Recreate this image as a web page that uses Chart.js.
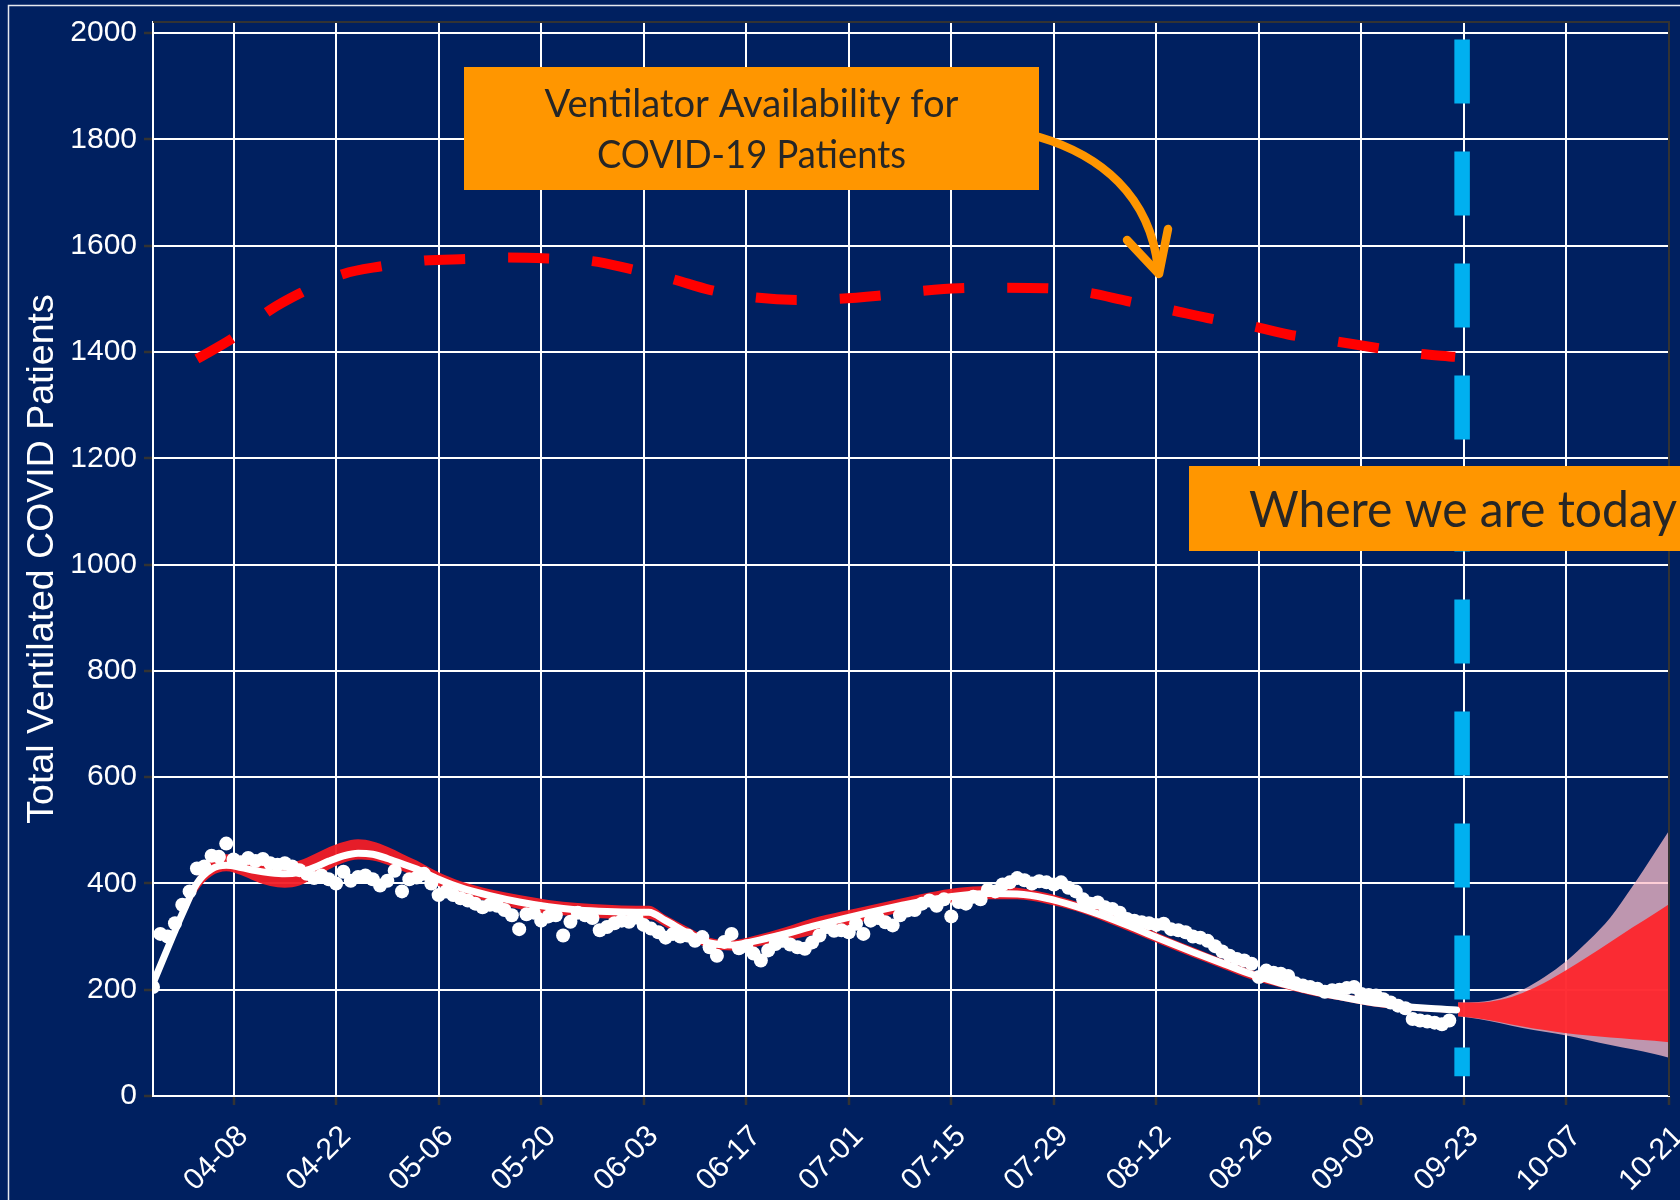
<!DOCTYPE html>
<html><head><meta charset="utf-8">
<style>html,body{margin:0;padding:0;background:#002060;}canvas{display:block;}</style>
<script src="https://cdn.jsdelivr.net/npm/chart.js@4.4.1/dist/chart.umd.min.js"></script>
</head><body>
<canvas id="c" width="1680" height="1200"></canvas>
<script>
// ---- axis ticks (x = days since 03-28) ----
const tickDays = [11, 25, 39, 53, 67, 81, 95, 109, 123, 137, 151, 165, 179, 193, 207];
const tickLabels = ['04-08','04-22','05-06','05-20','06-03','06-17','07-01','07-15','07-29','08-12','08-26','09-09','09-23','10-07','10-21'];
const yTicks = [0, 200, 400, 600, 800, 1000, 1200, 1400, 1600, 1800, 2000];

// ---- observed daily ventilated patients (day 0 = 03-28) ----
const observed = [
 205,305,300,325,360,385,428,432,452,450,475,445,440,448,442,446,438,435,438,432,
 425,418,410,415,408,400,422,405,412,415,408,396,405,424,385,408,411,418,400,378,
 385,378,372,368,362,355,360,358,350,340,314,342,345,330,338,340,302,328,345,340,
 335,312,318,325,330,328,336,322,315,308,298,305,300,302,292,299,280,264,290,305,
 278,282,268,255,274,286,292,285,280,277,289,302,318,311,312,308,324,305,330,335,
 327,321,340,349,350,362,368,358,370,338,365,362,375,370,388,385,398,402,410,406,
 400,404,402,398,402,392,385,370,362,364,355,352,345,333,330,327,325,322,324,314,
 312,308,300,298,292,282,272,264,258,255,249,224,236,232,230,226,212,208,205,202,
 196,199,200,203,205,192,190,189,182,176,170,165,145,142,140,138,135,142
];

// ---- smoothed fit and its band ----
const fitDays   = [0,2,4,6,8,10,12,14,16,18,20,22,24,26,28,30,32,34,36,39,42,46,50,54,58,62,66,67.7,70,73,76,79,82,86,90,94,98,102,106,110,114,118,122,126,130,134,138,142,146,150,154,158,162,166,170,174,178];
const fitCenter = [212,278,343,400,427,434,430,424,420,418,421,430,442,452,457,455,447,437,427,408,392,377,365,356,350,347,346,346,330,307,288,284,291,304,319,333,346,358,369,377,381,380,372,357,338,316,293,271,250,229,212,198,187,177,170,165,162];
const fitLower  = [206,270,333,385,414,423,416,404,395,392,396,410,426,439,445,443,435,424,412,395,380,365,352,343,338,334,333,333,318,296,278,274,280,291,303,318,332,346,358,366,370,370,362,348,328,306,283,261,240,219,204,190,180,170,163,159,156];
const fitUpper  = [218,284,350,410,444,455,452,446,441,439,443,455,468,478,483,479,469,456,443,421,404,389,378,369,363,360,358,358,340,318,298,293,301,316,334,347,359,371,383,392,395,392,382,366,347,325,302,280,258,237,220,205,194,184,176,170,167];

// ---- forecast fan ----
const fanDays       = [178.2,181,184,187,190,193,196,199,202,205,207];
const fanInnerUpper = [176,176,181,194,213,237,263,290,317,343,361];
const fanInnerLower = [150,146,139,131,124,118,114,110,107,104,101];
const fanOuterUpper = [176,177,184,200,224,254,292,336,394,457,499];
const fanOuterLower = [150,145,137,128,121,114,105,96,88,79,72];

// ---- ventilator availability ----
const capacityDays   = [6,11,16,20,26,31,37,43,48.5,54,60,65,71,76,82,88,93.5,99,105,110,116,122,127.5,133,139,144,150,155,161,166.5,172,177.8];
const capacityValues = [1387,1427,1479,1510,1547,1561,1572,1575,1578,1576,1571,1557,1537,1517,1503,1498,1500,1506,1515,1520,1521,1520,1512,1496,1479,1464,1449,1433,1421,1409,1398,1391];

// ---- "today" marker ----
const todayDay = 178.75;
const todayRange = [1988, 37];

const BG = '#002060', ORANGE = '#FF9600', TEXT_DARK = '#262626';
const pts = (xs, ys) => xs.map((x, i) => ({x: x, y: ys[i]}));

const lineBase = {pointRadius: 0, pointHoverRadius: 0, borderCapStyle: 'butt'};

const datasets = [
  Object.assign({}, lineBase, {label: 'today', data: pts([todayDay, todayDay], todayRange), borderColor: '#00B0F0', borderWidth: 15.5, borderDash: [64, 48], order: 0}),
  Object.assign({}, lineBase, {label: 'capacity', data: pts(capacityDays, capacityValues), borderColor: '#FF0000', borderWidth: 10, borderDash: [41, 43], cubicInterpolationMode: 'monotone', order: 1}),
  {label: 'observed', data: observed.map((v, i) => ({x: i, y: v})), showLine: false, pointRadius: 7, pointHoverRadius: 7, pointBackgroundColor: '#FFFFFF', pointBorderWidth: 0, borderWidth: 0, order: 2},
  Object.assign({}, lineBase, {label: 'fit', data: pts(fitDays, fitCenter), borderColor: '#FFFFFF', borderWidth: 7, cubicInterpolationMode: 'monotone', borderCapStyle: 'round', order: 3}),
  Object.assign({}, lineBase, {label: 'fitUpper', data: pts(fitDays, fitUpper), borderWidth: 0, borderColor: 'rgba(0,0,0,0)', backgroundColor: 'rgba(242,30,38,0.95)', fill: '+1', cubicInterpolationMode: 'monotone', order: 4}),
  Object.assign({}, lineBase, {label: 'fitLower', data: pts(fitDays, fitLower), borderWidth: 0, borderColor: 'rgba(0,0,0,0)', cubicInterpolationMode: 'monotone', order: 5}),
  Object.assign({}, lineBase, {label: 'fanInnerUpper', data: pts(fanDays, fanInnerUpper), borderWidth: 0, borderColor: 'rgba(0,0,0,0)', backgroundColor: 'rgba(255,34,40,0.92)', fill: '+1', cubicInterpolationMode: 'monotone', order: 6}),
  Object.assign({}, lineBase, {label: 'fanInnerLower', data: pts(fanDays, fanInnerLower), borderWidth: 0, borderColor: 'rgba(0,0,0,0)', cubicInterpolationMode: 'monotone', order: 7}),
  Object.assign({}, lineBase, {label: 'fanOuterUpper', data: pts(fanDays, fanOuterUpper), borderWidth: 0, borderColor: 'rgba(0,0,0,0)', backgroundColor: 'rgba(253,189,201,0.75)', fill: '+1', cubicInterpolationMode: 'monotone', order: 8}),
  Object.assign({}, lineBase, {label: 'fanOuterLower', data: pts(fanDays, fanOuterLower), borderWidth: 0, borderColor: 'rgba(0,0,0,0)', cubicInterpolationMode: 'monotone', order: 9})
];

function fitText(ctx, text, family, capH, targetW, x, baseline, align) {
  const size = capH / 0.7165;
  ctx.font = size + 'px ' + family;
  const w = ctx.measureText(text).width;
  const sx = targetW / w;
  ctx.save();
  ctx.translate(x, baseline);
  ctx.scale(sx, 1);
  ctx.textAlign = align;
  ctx.textBaseline = 'alphabetic';
  ctx.fillStyle = TEXT_DARK;
  ctx.fillText(text, 0, 0);
  ctx.restore();
}

const decor = {
  id: 'decor',
  beforeDraw(chart) {
    const ctx = chart.ctx;
    ctx.save();
    ctx.fillStyle = BG;
    ctx.fillRect(0, 0, chart.width, chart.height);
    ctx.restore();
  },
  afterDatasetsDraw(chart) {
    const ctx = chart.ctx, a = chart.chartArea;
    ctx.save();
    ctx.strokeStyle = '#333333';
    ctx.lineWidth = 2;
    ctx.beginPath();
    ctx.moveTo(a.left, a.top);
    ctx.lineTo(a.right, a.top);
    ctx.lineTo(a.right, a.bottom);
    ctx.stroke();
    ctx.restore();
  },
  afterDraw(chart) {
    const ctx = chart.ctx;
    ctx.save();
    // slide frame
    ctx.strokeStyle = 'rgba(255,255,255,0.9)';
    ctx.lineWidth = 1.5;
    ctx.strokeRect(8.5, 5.5, 1700, 1300);
    // box 1
    ctx.fillStyle = ORANGE;
    ctx.fillRect(464, 67, 575, 123);
    fitText(ctx, 'Ventilator Availability for', 'Lato, "Open Sans", sans-serif', 28, 414, 751.5, 117, 'center');
    fitText(ctx, 'COVID-19 Patients', 'Lato, "Open Sans", sans-serif', 27, 309, 751.5, 168, 'center');
    // arrow
    ctx.strokeStyle = ORANGE;
    ctx.lineWidth = 8.5;
    ctx.lineCap = 'round';
    ctx.lineJoin = 'round';
    ctx.beginPath();
    ctx.moveTo(1039, 137);
    ctx.bezierCurveTo(1100, 155, 1150, 195, 1158, 268);
    ctx.stroke();
    ctx.beginPath();
    ctx.moveTo(1127, 240);
    ctx.lineTo(1159, 274);
    ctx.lineTo(1168, 229);
    ctx.stroke();
    // box 2
    ctx.fillStyle = ORANGE;
    ctx.fillRect(1189, 466, 500, 85);
    fitText(ctx, 'Where we are today', 'Lato, "Open Sans", sans-serif', 35.5, 428, 1249, 527, 'left');
    ctx.restore();
  }
};

Chart.defaults.font.family = "'Liberation Sans', Arial, sans-serif";

new Chart(document.getElementById('c'), {
  type: 'line',
  data: {datasets: datasets},
  plugins: [decor],
  options: {
    responsive: false,
    animation: false,
    devicePixelRatio: 1,
    layout: {padding: {left: 0, right: 11, top: 22, bottom: 0}},
    plugins: {legend: {display: false}, tooltip: {enabled: false}},
    events: [],
    scales: {
      x: {
        type: 'linear', min: 0, max: 207,
        afterBuildTicks: s => { s.ticks = tickDays.map(v => ({value: v})); },
        afterFit: s => { s.height = 104; s.paddingLeft = 0; s.paddingRight = 0; },
        ticks: {
          autoSkip: false, minRotation: 45, maxRotation: 45,
          color: '#FFFFFF', font: {size: 30}, padding: 14, labelOffset: 10,
          callback: (v, i) => tickLabels[i]
        },
        grid: {color: '#FFFFFF', lineWidth: 2, tickColor: '#333333', tickLength: 9, tickWidth: 2.5},
        border: {color: '#FFFFFF', width: 2}
      },
      y: {
        type: 'linear', min: 0, max: 2021,
        afterBuildTicks: s => { s.ticks = yTicks.map(v => ({value: v})); },
        afterFit: s => { s.width = 153; s.paddingTop = 0; s.paddingBottom = 0; },
        ticks: {color: '#FFFFFF', font: {size: 30}, padding: 7, callback: (v, i) => String(yTicks[i])},
        grid: {color: '#FFFFFF', lineWidth: 2, tickColor: '#333333', tickLength: 9, tickWidth: 2.5},
        border: {color: '#FFFFFF', width: 2},
        title: {display: true, text: 'Total Ventilated COVID Patients', color: '#FFFFFF', font: {size: 37.5}, padding: {top: 20, bottom: 0}}
      }
    }
  }
});
</script>
</body></html>
